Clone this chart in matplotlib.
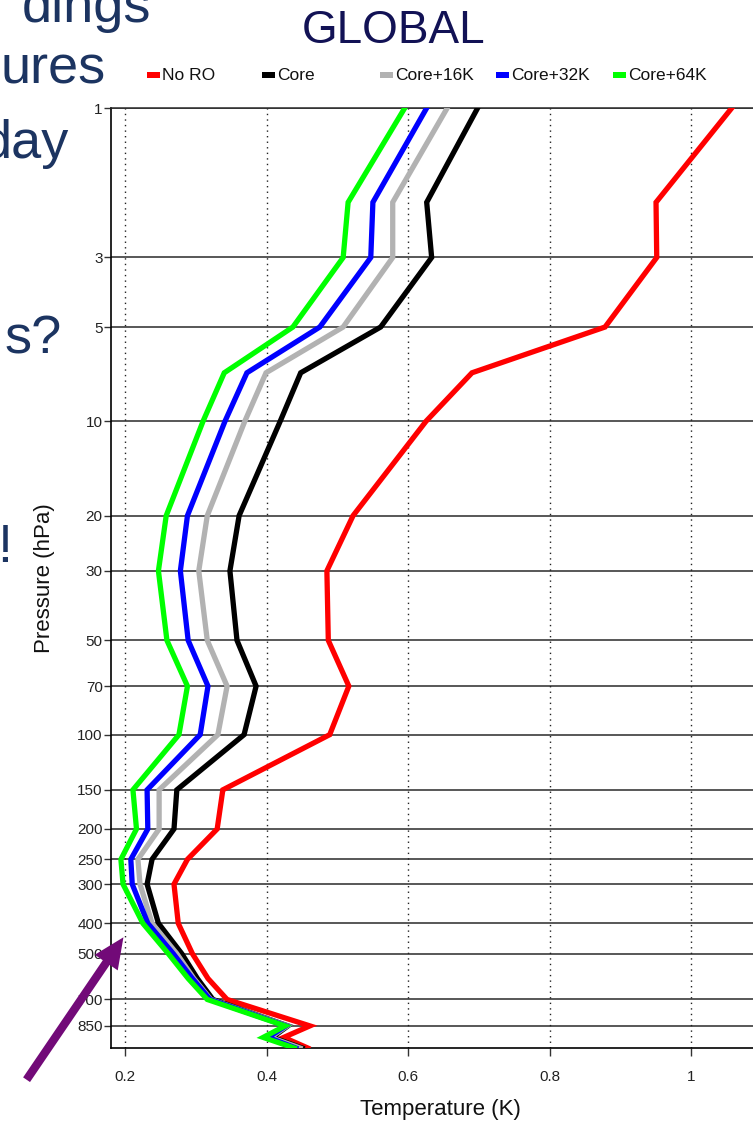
import matplotlib
matplotlib.use('Agg')
import matplotlib.pyplot as plt
from matplotlib.patches import Rectangle, FancyArrowPatch
from matplotlib.ticker import NullLocator, FixedLocator, FixedFormatter

plt.rcParams['font.family'] = ['Liberation Sans', 'DejaVu Sans']

# ---------------- data ----------------
pressure = [1, 2, 3, 5, 7, 10, 20, 30, 50, 70, 100, 150, 200, 250, 300,
            400, 500, 600, 700, 850, 925, 1000]

no_ro = [1.057, 0.950, 0.951, 0.878, 0.690, 0.625, 0.522, 0.485, 0.487, 0.516,
         0.489, 0.338, 0.330, 0.288, 0.269, 0.275, 0.295, 0.317, 0.344, 0.461,
         0.424, 0.458]
core = [0.698, 0.626, 0.633, 0.561, 0.448, 0.419, 0.361, 0.348, 0.358, 0.385,
        0.368, 0.273, 0.269, 0.238, 0.231, 0.247, 0.280, 0.302, 0.324, 0.430,
        0.408, 0.450]
core16 = [0.655, 0.578, 0.578, 0.508, 0.399, 0.369, 0.316, 0.304, 0.316, 0.344,
          0.331, 0.248, 0.248, 0.218, 0.221, 0.238, 0.273, 0.297, 0.321, 0.429,
          0.405, 0.447]
core32 = [0.626, 0.550, 0.547, 0.475, 0.372, 0.341, 0.288, 0.278, 0.289, 0.317,
          0.306, 0.231, 0.232, 0.208, 0.210, 0.232, 0.268, 0.295, 0.320, 0.427,
          0.402, 0.441]
core64 = [0.595, 0.515, 0.508, 0.437, 0.340, 0.310, 0.258, 0.247, 0.259, 0.288,
          0.276, 0.211, 0.216, 0.194, 0.197, 0.225, 0.261, 0.289, 0.316, 0.426,
          0.395, 0.439]

series_names = ['No RO', 'Core', 'Core+16K', 'Core+32K', 'Core+64K']
series_values = [no_ro, core, core16, core32, core64]
series_colors = ['#ff0000', '#000000', '#b2b2b2', '#0000ff', '#00ff00']

ytick_values = [1, 3, 5, 10, 20, 30, 50, 70, 100, 150, 200, 250, 300, 400, 500, 700, 850]
ytick_labels = [str(v) for v in ytick_values]
xtick_values = [0.2, 0.4, 0.6, 0.8, 1.0]
xtick_labels = ['0.2', '0.4', '0.6', '0.8', '1']

slide_lines = ['dings', 'ures', 'day', 's?', '!']

# ---------------- figure ----------------
W, H = 753, 1123
fig = plt.figure(figsize=(W / 100, H / 100), dpi=100)
fig.patch.set_facecolor('white')

def fx(px):
    return px / W

def fy(py):
    return 1 - py / H

ax = fig.add_axes([fx(111), fy(1048), (W - 111) / W, (1048 - 108) / H])
ax.set_yscale('log')
ax.set_ylim(1000, 1)
ax.set_xlim(0.180, 1.087)

for p in ytick_values:
    ax.axhline(p, color='#2a2a2a', lw=1.1, zorder=1)
for xv in xtick_values:
    ax.axvline(xv, color='#222222', lw=1.0, ls=(0, (1, 3)), zorder=1)

for name, vals, col in zip(series_names, series_values, series_colors):
    ax.plot(vals, pressure, color=col, lw=3.8, solid_joinstyle='miter', zorder=3, label=name)

ax.yaxis.set_major_locator(FixedLocator(ytick_values))
ax.yaxis.set_major_formatter(FixedFormatter(ytick_labels))
ax.yaxis.set_minor_locator(NullLocator())
ax.set_xticks(xtick_values)
ax.set_xticklabels(xtick_labels)

ax.spines['right'].set_visible(False)
ax.spines['top'].set_color('#2a2a2a')
ax.spines['top'].set_linewidth(1.1)
for s in ['left', 'bottom']:
    ax.spines[s].set_color('black')
    ax.spines[s].set_linewidth(1.2)

ax.tick_params(axis='y', length=5, width=1, color='#333333', labelsize=11,
               labelcolor='#222222', pad=1)
ax.tick_params(axis='x', length=6, width=1, color='#333333', labelsize=11,
               labelcolor='#222222', pad=10)

fig.text(fx(440), fy(1110), 'Temperature (K)', ha='center', va='center',
         fontsize=16, color='#111111')
fig.text(fx(45), fy(578), 'Pressure (hPa)', ha='center', va='center',
         rotation=90, fontsize=16, color='#111111')

# title
fig.text(fx(394), fy(31), 'GLOBAL', ha='center', va='center', fontsize=33,
         color='#121255')

# legend
legend_x = [147, 262, 380, 496, 613]
for name, col, lx in zip(series_names, series_colors, legend_x):
    fig.patches.append(Rectangle((fx(lx), fy(78)), 13 / W, 6 / H,
                                 transform=fig.transFigure, facecolor=col,
                                 edgecolor='none'))
    fig.text(fx(lx + 15), fy(75), name, ha='left', va='center', fontsize=12.5,
             color='#111111')

# slide text fragments (cut off at the left edge, as in the reference)
slide_color = '#1c3461'
slide_pos = [(151, 22), (106, 84), (69, 158), (62, 354), (12, 562)]
for txt, (rx, by) in zip(slide_lines, slide_pos):
    fig.text(fx(rx), fy(by), txt, ha='right', va='baseline', fontsize=39,
             color=slide_color)

# purple arrow
arrow = FancyArrowPatch(posA=(fx(25), fy(1082)), posB=(fx(125), fy(935)),
                        transform=fig.transFigure,
                        arrowstyle='simple,head_length=22,head_width=20,tail_width=6',
                        mutation_scale=1, color='#720a78', lw=0)
fig.add_artist(arrow)

fig.savefig('out.png', dpi=100)
